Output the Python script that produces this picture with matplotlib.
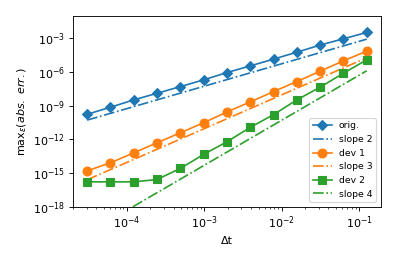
import numpy as np
import matplotlib
matplotlib.use("Agg")
import matplotlib.pyplot as plt

# time steps 2^-3 ... 2^-15
dt = [2.0**-k for k in range(15, 2, -1)]

# log10 of max abs error
orig_log = [-9.77, -9.14, -8.49, -7.90, -7.31, -6.71, -6.06, -5.47, -4.87, -4.25, -3.62, -3.06, -2.50]
dev1_log = [-14.79, -14.08, -13.19, -12.30, -11.41, -10.52, -9.56, -8.67, -7.75, -6.86, -5.94, -5.02, -4.16]
dev2_log = [-15.77, -15.77, -15.77, -15.56, -14.58, -13.33, -12.21, -10.93, -9.80, -8.49, -7.36, -6.12, -4.93]

# reference lines: values at first and last dt
slope2_ends = [5.2e-11, 8.1e-4]
slope3_ends = [2.6e-16, 1.8e-5]
slope4_ends = [4.5e-21, 1.25e-6]

orig = [10**v for v in orig_log]
dev1 = [10**v for v in dev1_log]
dev2 = [10**v for v in dev2_log]
ends_dt = [dt[0], dt[-1]]

fig = plt.figure(figsize=(4.975, 3.25), dpi=80)
ax = fig.add_axes([0.183, 0.204, 0.774, 0.736])

ax.loglog(dt, orig, '-D', color='C0', ms=7, label="orig.")
ax.loglog(ends_dt, slope2_ends, '-.', color='C0', label="slope 2")
ax.loglog(dt, dev1, '-o', color='C1', ms=8, label="dev 1")
ax.loglog(ends_dt, slope3_ends, '-.', color='C1', label="slope 3")
ax.loglog(dt, dev2, '-s', color='C2', ms=7, label="dev 2")
ax.loglog(ends_dt, slope4_ends, '-.', color='C2', label="slope 4")

ax.set_xlim(10**-4.70, 10**-0.72)
ax.set_ylim(1e-18, 1e-1)
ax.set_xlabel("Δt")
ax.set_ylabel(r"max$_\epsilon$($abs.\ err.$)")
ax.legend(loc="lower right", fontsize="small")

fig.savefig("out.png", dpi=80)
